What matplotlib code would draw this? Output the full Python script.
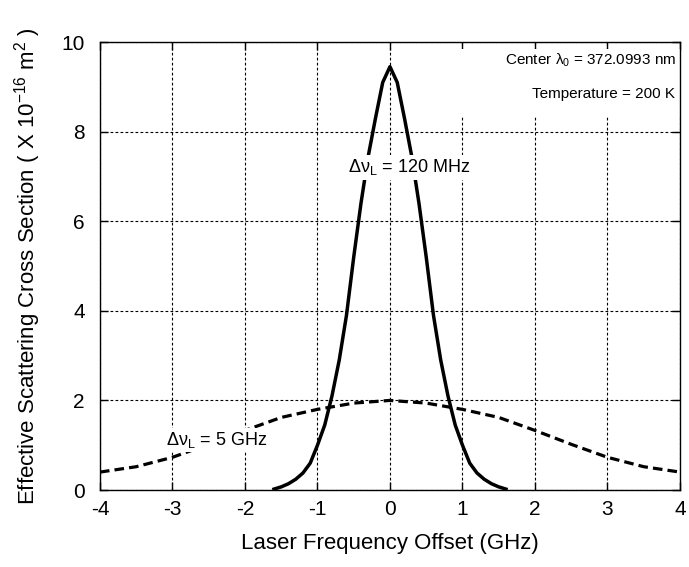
import matplotlib.pyplot as plt
from matplotlib.patches import Rectangle

plt.rcParams['font.family'] = ['Liberation Sans', 'DejaVu Sans']
plt.rcParams['mathtext.fontset'] = 'custom'
plt.rcParams['mathtext.rm'] = 'Liberation Sans'
plt.rcParams['mathtext.it'] = 'Liberation Sans:italic'
plt.rcParams['axes.unicode_minus'] = False

# narrow laser line (120 MHz)
x_narrow = [-1.6, -1.5, -1.4, -1.3, -1.2, -1.1, -1.0, -0.9, -0.8, -0.7, -0.6, -0.5, -0.4, -0.3, -0.2, -0.1, 0.0,
            0.1, 0.2, 0.3, 0.4, 0.5, 0.6, 0.7, 0.8, 0.9, 1.0, 1.1, 1.2, 1.3, 1.4, 1.5, 1.6]
y_narrow = [0.02, 0.07, 0.14, 0.24, 0.38, 0.60, 1.00, 1.45, 2.10, 2.90, 3.90, 5.20, 6.40, 7.45, 8.30, 9.10, 9.45,
            9.10, 8.30, 7.45, 6.40, 5.20, 3.90, 2.90, 2.10, 1.45, 1.00, 0.60, 0.38, 0.24, 0.14, 0.07, 0.02]

# broad laser line (5 GHz)
x_broad = [-4.0, -3.5, -3.0, -2.5, -2.0, -1.5, -1.0, -0.5, 0.0, 0.5, 1.0, 1.5, 2.0, 2.5, 3.0, 3.5, 4.0]
y_broad = [0.40, 0.52, 0.73, 1.02, 1.33, 1.62, 1.80, 1.94, 2.00, 1.94, 1.80, 1.62, 1.33, 1.02, 0.73, 0.52, 0.40]

xticks = [-4, -3, -2, -1, 0, 1, 2, 3, 4]
yticks = [0, 2, 4, 6, 8, 10]

fig = plt.figure(figsize=(6.89, 5.67), dpi=100)
ax = fig.add_axes([0.1451, 0.1358, 0.8418, 0.790])

ax.plot(x_narrow, y_narrow, color='black', lw=2.5, zorder=3)
ax.plot(x_broad, y_broad, color='black', lw=2.3, dashes=(3, 1.6), zorder=3)

ax.set_xlim(-4, 4)
ax.set_ylim(0, 10)
ax.set_xticks(xticks)
ax.set_yticks(yticks)
ax.grid(True, color='black', linestyle=(0, (2.5, 2)), lw=0.8)
ax.tick_params(direction='in', top=True, right=True, labelsize=15, length=6, width=1)
ax.tick_params(axis='x', pad=7)
ax.tick_params(axis='y', pad=11)
for s in ax.spines.values():
    s.set_linewidth(1.0)

# white area behind the top-right notes (hides the grid there)
ax.add_patch(Rectangle((0.2, 8.35), 3.8, 1.5, facecolor='white', edgecolor='none', zorder=2))

box = dict(facecolor='white', edgecolor='none', pad=1.5)
ax.text(0.27, 7.2, 'Δν$_\\mathrm{L}$ = 120 MHz', fontsize=13, ha='center', va='center', bbox=box, zorder=4)
ax.text(-2.39, 1.12, 'Δν$_\\mathrm{L}$ = 5 GHz', fontsize=13, ha='center', va='center', bbox=box, zorder=4)
ax.text(3.95, 9.6, 'Center λ$_\\mathrm{0}$ = 372.0993 nm', fontsize=11, ha='right', va='center', zorder=4)
ax.text(1.96, 8.84, 'Temperature = 200 K', fontsize=11, ha='left', va='center', zorder=4)

ax.set_xlabel('Laser Frequency Offset (GHz)', fontsize=16)
ax.set_ylabel('Effective Scattering Cross Section ( X 10$^{-16}$ m$^{2}$ )', fontsize=16)
ax.xaxis.set_label_coords(0.5, -0.095)
ax.yaxis.set_label_coords(-0.099, 0.5)

plt.savefig('out.png', dpi=100)
